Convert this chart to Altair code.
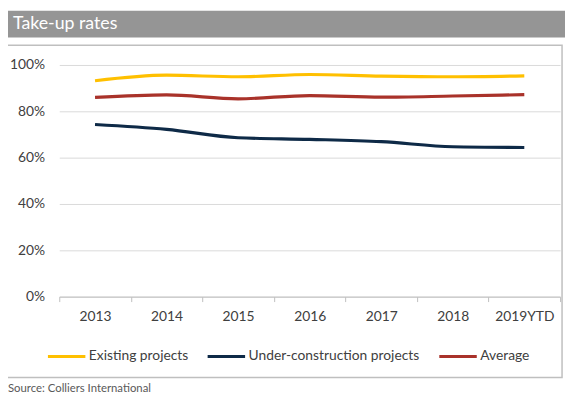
import altair as alt
import pandas as pd

years = ["2013", "2014", "2015", "2016", "2017", "2018", "2019YTD"]
existing = [0.932, 0.956, 0.949, 0.959, 0.952, 0.949, 0.953]
under_construction = [0.743, 0.722, 0.686, 0.679, 0.669, 0.647, 0.644]
average = [0.860, 0.871, 0.854, 0.868, 0.861, 0.866, 0.872]

series_names = ["Existing projects", "Under-construction projects", "Average"]
series_colors = ["#FFC000", "#0E2A47", "#A9322A"]

rows = []
for name, vals in zip(series_names, [existing, under_construction, average]):
    for y, v in zip(years, vals):
        rows.append({"year": y, "value": v, "series": name})
df = pd.DataFrame(rows)

FONT = "Lato"
one = pd.DataFrame({"a": [0]})

box = alt.Chart(one).mark_rect(fill=None, stroke="#BFBFBF", strokeWidth=1.5).encode(
    x=alt.value(-53), x2=alt.value(510), y=alt.value(-20), y2=alt.value(317)
)
bar = alt.Chart(one).mark_rect(fill="#959595").encode(
    x=alt.value(-53), x2=alt.value(520), y=alt.value(-55), y2=alt.value(-28)
)
title_txt = alt.Chart(one).mark_text(
    text="Take-up rates", color="white", font=FONT, fontSize=18, align="left", baseline="middle"
).encode(x=alt.value(-47), y=alt.value(-42))
source_txt = alt.Chart(one).mark_text(
    text="Source: Colliers International", color="#595959", font=FONT, fontSize=11.5,
    align="left", baseline="middle"
).encode(x=alt.value(-52), y=alt.value(329))

lines = alt.Chart(df).mark_line(strokeWidth=3.2, interpolate="monotone").encode(
    x=alt.X("year:N", sort=years, bandPosition=0.5,
            scale=alt.Scale(type="band", paddingInner=0, paddingOuter=0),
            axis=alt.Axis(title=None, labelAngle=0, tickBand="extent", domainColor="#BFBFBF",
                          tickColor="#BFBFBF", tickSize=5, labelPadding=8, labelFontSize=14,
                          labelColor="#404040", labelFont=FONT, grid=False)),
    y=alt.Y("value:Q", scale=alt.Scale(domain=[0, 1]),
            axis=alt.Axis(title=None, format=".0%", values=[0, 0.2, 0.4, 0.6, 0.8, 1.0],
                          domain=False, ticks=False, gridColor="#D9D9D9", labelPadding=15,
                          labelFontSize=14, labelColor="#404040", labelFont=FONT)),
    color=alt.Color("series:N", scale=alt.Scale(domain=series_names, range=series_colors),
                    legend=alt.Legend(title=None, orient="none", legendX=-13, legendY=275,
                                      direction="horizontal", symbolType="stroke",
                                      symbolSize=1444, symbolStrokeWidth=3, labelFontSize=14,
                                      labelFont=FONT, labelColor="#404040", labelOffset=2,
                                      labelLimit=300, columnPadding=13)),
    order=alt.Order("year:N"),
)

chart = alt.layer(box, bar, title_txt, source_txt, lines).properties(
    width=508, height=235,
    padding={"left": 52, "top": 55, "right": 5, "bottom": 100},
    autosize=alt.AutoSizeParams(type="none"),
).configure_view(stroke=None)

chart.save("out.html", embed_options={"renderer": "svg", "actions": False})
